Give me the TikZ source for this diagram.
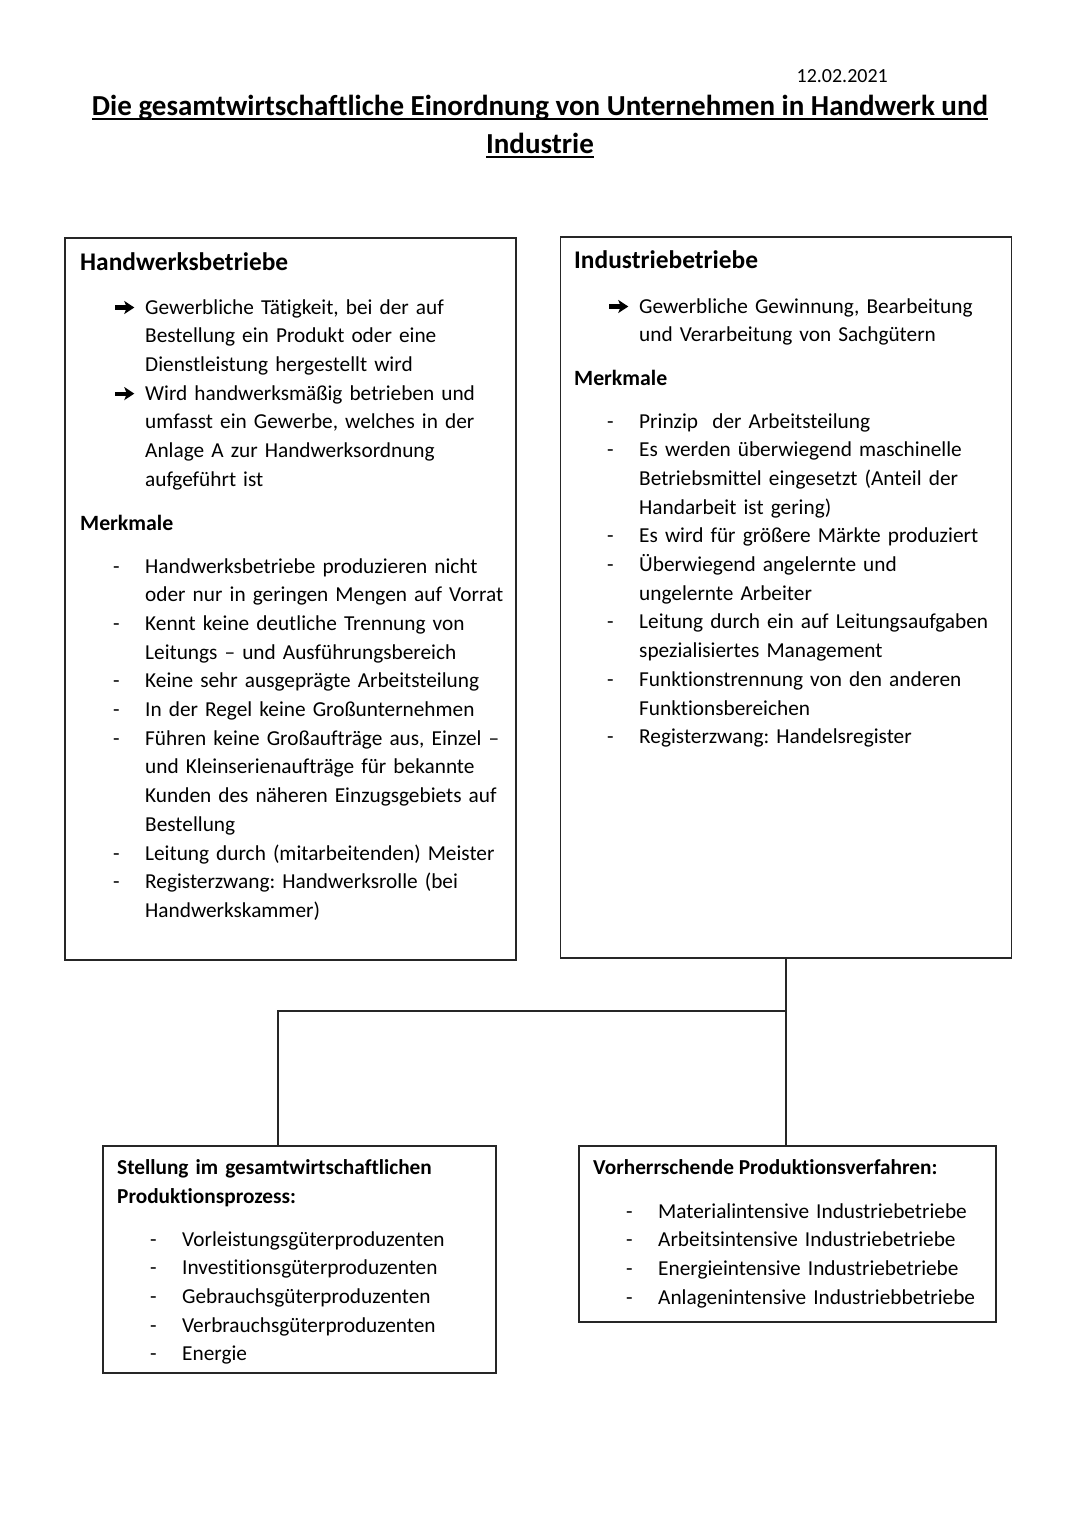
\documentclass[tikz,border=0pt]{standalone}
\usepackage{fontspec}
\setmainfont{Carlito}[Ligatures={TeX,NoCommon}]
\usetikzlibrary{positioning, calc, arrows.meta}
\frenchspacing

% list helpers: label column 65pt, text after it
\newlength{\labshift}
\newcommand{\lab}[1]{\makebox[65pt][l]{\hspace{\labshift}#1}}
\newcommand{\cont}{\hspace*{65pt}}
\newcommand{\arr}{\raisebox{6.5pt}{\tikz[baseline=(current bounding box.center)]
    \draw[line width=4.2pt, -{Stealth[length=10pt, width=13pt, inset=2.5pt]}] (0pt,0pt) -- (19pt,0pt);}}
\newcommand{\ulline}[1]{\setbox0\hbox{#1}\rlap{\rule[-5pt]{\wd0}{2pt}}\box0}

\begin{document}
\begin{tikzpicture}[
    x=1pt, y=-1pt,
    % Styles
    box/.style={ % outer boxes
        rectangle,
        draw=black!85,
        line width=1.5pt,
        inner sep=0pt
    },
    head/.style={ % bold box headings
        anchor=base west,
        inner sep=0pt,
        font=\fontsize{25.4}{29}\selectfont\bfseries
    },
    list/.style={ % item lists, first baseline at the anchor
        anchor=base west,
        inner sep=0pt,
        text width=440,
        align=left,
        font=\fontsize{21.3}{28.7}\selectfont
    },
    link/.style={ % connectors
        draw=black!85,
        line width=1.8pt
    }
]
    \useasboundingbox (0,0) rectangle (1080,1527);

    % Date and title
    \node[anchor=base east, inner sep=0pt, font=\fontsize{20}{24}\selectfont] (date) at (888,82) {12.02.2021};
    \node[anchor=base, inner sep=0pt, font=\fontsize{29}{38}\selectfont\bfseries] (title1) at (540,115)
        {\ulline{Die gesamtwirtschaftliche Einordnung von Unternehmen in Handwerk und}};
    \node[anchor=base, inner sep=0pt, font=\fontsize{29}{38}\selectfont\bfseries] (title2) at (540,153)
        {\ulline{Industrie}};

    % Boxes
    \node[box, minimum width=451, minimum height=722] (hwbox) at (290.5,599) {};
    \node[box, minimum width=451, minimum height=721] (indbox) at (786,597.5) {};
    \node[box, minimum width=393, minimum height=227] (stellbox) at (299.5,1259.5) {};
    \node[box, minimum width=417, minimum height=176] (verfbox) at (787.5,1234) {};

    % Handwerksbetriebe
    \node[head] (hwhead) at (80,270) {Handwerksbetriebe};
    \setlength{\labshift}{33pt}
    \node[list] (hwdef) at (80,314) {%
        \lab{\arr}Gewerbliche Tätigkeit, bei der auf\\
        \cont Bestellung ein Produkt oder eine\\
        \cont Dienstleistung hergestellt wird\\
        \lab{\arr}Wird handwerksmäßig betrieben und\\
        \cont umfasst ein Gewerbe, welches in der\\
        \cont Anlage A zur Handwerksordnung\\
        \cont aufgeführt ist};
    \node[head, font=\fontsize{21.8}{29}\selectfont\bfseries] (hwmerk) at (80,530) {Merkmale};
    \setlength{\labshift}{33pt}
    \node[list] (hwlist) at (80,573) {%
        \lab{-}Handwerksbetriebe produzieren nicht\\
        \cont oder nur in geringen Mengen auf Vorrat\\
        \lab{-}Kennt keine deutliche Trennung von\\
        \cont Leitungs – und Ausführungsbereich\\
        \lab{-}Keine sehr ausgeprägte Arbeitsteilung\\
        \lab{-}In der Regel keine Großunternehmen\\
        \lab{-}Führen keine Großaufträge aus, Einzel –\\
        \cont und Kleinserienaufträge für bekannte\\
        \cont Kunden des näheren Einzugsgebiets auf\\
        \cont Bestellung\\
        \lab{-}Leitung durch (mitarbeitenden) Meister\\
        \lab{-}Registerzwang: Handwerksrolle (bei\\
        \cont Handwerkskammer)};

    % Industriebetriebe
    \node[head] (indhead) at (574,268) {Industriebetriebe};
    \setlength{\labshift}{33pt}
    \node[list] (inddef) at (574,313) {%
        \lab{\arr}Gewerbliche Gewinnung, Bearbeitung\\
        \cont und Verarbeitung von Sachgütern};
    \node[head, font=\fontsize{21.8}{29}\selectfont\bfseries] (indmerk) at (574,385) {Merkmale};
    \setlength{\labshift}{33pt}
    \node[list] (indlist) at (574,428) {%
        \lab{-}Prinzip\ \ der Arbeitsteilung\\
        \lab{-}Es werden überwiegend maschinelle\\
        \cont Betriebsmittel eingesetzt (Anteil der\\
        \cont Handarbeit ist gering)\\
        \lab{-}Es wird für größere Märkte produziert\\
        \lab{-}Überwiegend angelernte und\\
        \cont ungelernte Arbeiter\\
        \lab{-}Leitung durch ein auf Leitungsaufgaben\\
        \cont spezialisiertes Management\\
        \lab{-}Funktionstrennung von den anderen\\
        \cont Funktionsbereichen\\
        \lab{-}Registerzwang: Handelsregister};

    % Stellung im Produktionsprozess
    \node[list, font=\fontsize{21.3}{29}\selectfont\bfseries] (stellhead) at (117,1174)
        {Stellung im gesamtwirtschaftlichen\\Produktionsprozess:};
    \node[list] (stelllist) at (117,1246) {%
        \lab{-}Vorleistungsgüterproduzenten\\
        \lab{-}Investitionsgüterproduzenten\\
        \lab{-}Gebrauchsgüterproduzenten\\
        \lab{-}Verbrauchsgüterproduzenten\\
        \lab{-}Energie};

    % Produktionsverfahren
    \node[head, font=\fontsize{21.3}{29}\selectfont\bfseries] (verfhead) at (593,1174)
        {Vorherrschende Produktionsverfahren:};
    \node[list] (verflist) at (593,1218) {%
        \lab{-}Materialintensive Industriebetriebe\\
        \lab{-}Arbeitsintensive Industriebetriebe\\
        \lab{-}Energieintensive Industriebetriebe\\
        \lab{-}Anlagenintensive Industriebbetriebe};

    % Connectors
    \coordinate (leftdrop) at (278,1011);
    \coordinate (split) at (indbox.south |- leftdrop);
    \draw[link] (indbox.south) -- (split) -- (leftdrop) -- (leftdrop |- stellbox.north);
    \draw[link] (split) -- (split |- verfbox.north);
\end{tikzpicture}
\end{document}
